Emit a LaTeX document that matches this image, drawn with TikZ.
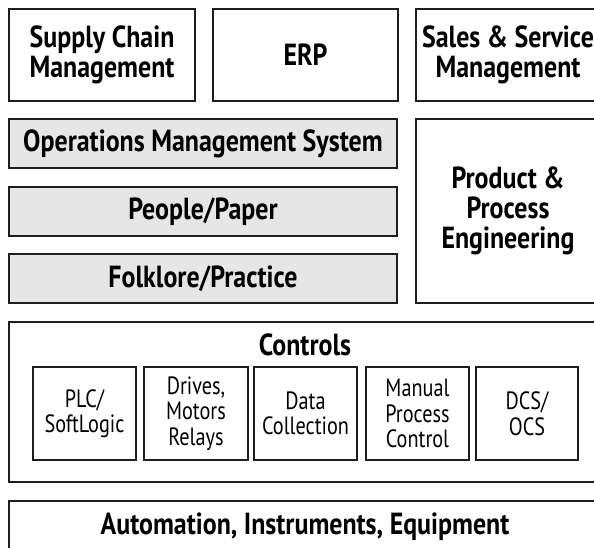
\documentclass[tikz,border=0pt]{standalone}
\usepackage{fontspec}
\setmainfont{PT Sans}
\newfontfamily\headfont[FakeStretch=0.85]{PT Sans}
\newfontfamily\itemfont[FakeStretch=0.81]{PT Sans}
\definecolor{edge}{HTML}{1E1E1E}
\definecolor{shade}{HTML}{E6E6E6}
\tikzset{
  headtext/.style={font=\headfont\bfseries\fontsize{30.5}{30}\selectfont},
  layer/.style={draw=edge, line width=1.8pt, align=center, inner sep=0pt,
    text=black, headtext},
  shadedlayer/.style={layer, fill=shade},
  unit/.style={draw=edge, line width=1.8pt, align=center, inner sep=0pt,
    minimum width=103, minimum height=93, text=black,
    font=\itemfont\fontsize{25}{25.5}\selectfont},
}
\begin{document}
\begin{tikzpicture}[x=1pt, y=-1pt]
  \useasboundingbox (0,0) rectangle (594,548);
  \clip (0,0) rectangle (594,548);
  \fill[white] (0,0) rectangle (594,548);

  % business systems row
  \node[layer, minimum width=186, minimum height=92] (scm) at (102,55)
    {Supply Chain\\Management};
  \node[layer, minimum width=185, minimum height=92] (erp) at (305.5,55) {ERP};
  \node[layer, minimum width=184, minimum height=92] (ssm) at (508,55)
    {Sales \& Service\\Management};

  % operations stack
  \node[shadedlayer, minimum width=388, minimum height=49] (oms) at (203,143.5)
    {Operations Management System};
  \node[shadedlayer, minimum width=388, minimum height=49] (pp) at (203,211.5)
    {People/Paper};
  \node[shadedlayer, minimum width=388, minimum height=49] (fp) at (203,278.5)
    {Folklore/Practice};
  \node[layer, minimum width=184, minimum height=184] (ppe) at (508,211)
    {Product \&\\Process\\Engineering};

  % controls layer
  \node[layer, minimum width=592, minimum height=160] (controls) at (305,402) {};
  \node[headtext, inner sep=0pt, anchor=base] (ctitle) at (305,355) {Controls};
  \node[unit] (plc) at (84.5,413.5) {PLC/\\SoftLogic};
  \node[unit, minimum width=104] (drv) at (196,413.5) {Drives,\\Motors\\Relays};
  \node[unit] (dat) at (305.5,413.5) {Data\\Collection};
  \node[unit] (man) at (417.5,413.5) {Manual\\Process\\Control};
  \node[unit, minimum width=102] (dcs) at (527,413.5) {DCS/\\OCS};

  % field layer
  \node[layer, minimum width=592, minimum height=51] (auto) at (305,526.5)
    {Automation, Instruments, Equipment};
\end{tikzpicture}
\end{document}
